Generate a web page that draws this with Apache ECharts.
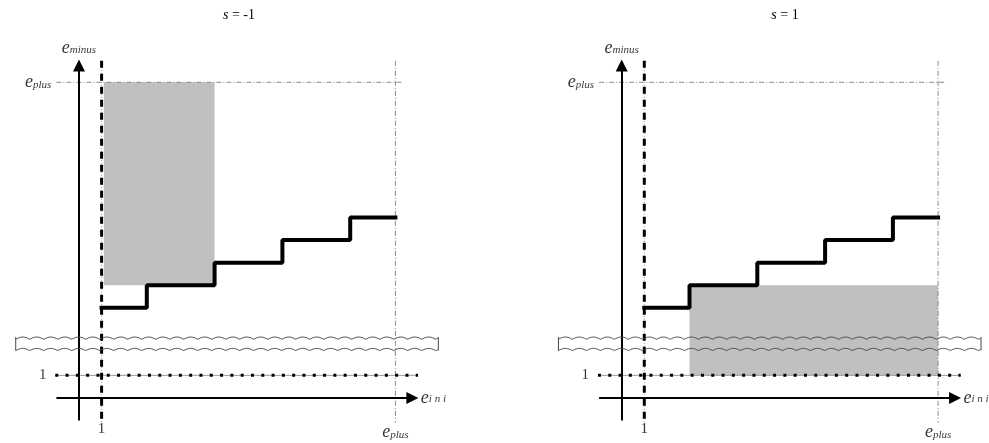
<!DOCTYPE html>
<html>
<head>
<meta charset="utf-8">
<script src="https://cdn.jsdelivr.net/npm/echarts@6/dist/echarts.min.js"></script>
<style>
  html, body { margin: 0; padding: 0; background: #fff; }
  #chart { width: 989px; height: 443px; }
</style>
</head>
<body>
<div id="chart"></div>
<script>
// both panels share the same staircase, only the shaded region changes
const panelS = ['-1', '1'];
const stepX = [1, 3, 6, 9, 12, 14];
const stepY = [4, 5, 6, 7, 8, 8];
const ePlus = 14;
const one = 1;
const shadeX = [[1.1, 6], [3, 14]];
const shadeY = [[5, 14], [1, 5]];
const breakY = [2.1, 2.7];
const breakX = [-2.8, 15.9];
const axisFrom = -1;
const axisTo = 14.75;

const serif = 'Liberation Serif';
const rich = {
  e: { fontFamily: serif, fontStyle: 'italic', fontSize: 18, color: '#000' },
  sub: { fontFamily: serif, fontStyle: 'italic', fontSize: 11, color: '#000', padding: [5, 0, 0, 0] },
  mid: { fontFamily: serif, fontStyle: 'italic', fontSize: 11, color: '#000', padding: [2, 0, 0, 0] },
  n: { fontFamily: serif, fontSize: 15, color: '#000' }
};

const guideGray = { color: '#8a8a8a', width: 1, type: [5, 2, 1, 2] };

function seg(i, pts, lineStyle, z) {
  return {
    type: 'line', xAxisIndex: i, yAxisIndex: i, data: pts,
    symbol: 'none', silent: true, animation: false, z: z || 2,
    lineStyle: lineStyle
  };
}

function renderShade(params, api) {
  const a = api.coord([api.value(0), api.value(3)]);
  const b = api.coord([api.value(1), api.value(2)]);
  return {
    type: 'rect',
    shape: { x: a[0], y: a[1], width: b[0] - a[0], height: b[1] - a[1] },
    style: { fill: '#c0c0c0' }
  };
}

function renderBreak(params, api) {
  const a = api.coord([api.value(0), api.value(3)]);
  const b = api.coord([api.value(0), api.value(2)]);
  const c = api.coord([api.value(1), api.value(2)]);
  const period = 14, amp = 2.2;
  function wave(y) {
    const pts = [];
    for (let x = a[0]; x <= c[0]; x += 1) {
      pts.push([x, y - amp * Math.abs(Math.sin(Math.PI * (x - a[0]) / period))]);
    }
    return pts;
  }
  const st = { stroke: '#444', lineWidth: 1, fill: null };
  return {
    type: 'group',
    children: [
      { type: 'polyline', shape: { points: wave(a[1] + amp) }, style: st },
      { type: 'polyline', shape: { points: wave(b[1]) }, style: st },
      { type: 'line', shape: { x1: a[0], y1: a[1], x2: a[0], y2: b[1] }, style: st },
      { type: 'line', shape: { x1: c[0], y1: a[1], x2: c[0], y2: c[1] }, style: st }
    ]
  };
}

function label(i, pos, text, position, distance) {
  return {
    type: 'scatter', xAxisIndex: i, yAxisIndex: i, symbolSize: 0, silent: true, z: 6,
    data: [{ value: pos }],
    label: { show: true, position: position, distance: distance, formatter: text, rich: rich }
  };
}

function panel(i) {
  const steps = stepX.map((x, k) => [x, stepY[k]]);
  return [
    {
      type: 'custom', xAxisIndex: i, yAxisIndex: i, z: 1, silent: true,
      renderItem: renderShade,
      data: [[shadeX[i][0], shadeX[i][1], shadeY[i][0], shadeY[i][1]]]
    },
    seg(i, [[axisFrom, ePlus], [ePlus + 0.3, ePlus]], guideGray),
    seg(i, [[ePlus, axisTo + 0.2], [ePlus, axisFrom - 0.1]], guideGray),
    seg(i, [[axisFrom - 0.05, one], [15, one]], { color: '#999', width: 1 }),
    seg(i, [[axisFrom - 0.05, one], [15, one]], { color: '#000', width: 3, type: [3, 7.3] }, 3),
    seg(i, [[one, axisTo + 0.2], [one, axisFrom - 0.1]], { color: '#999', width: 1, type: [1, 2] }),
    seg(i, [[one, axisTo + 0.2], [one, axisFrom - 0.1]], { color: '#000', width: 3, type: [7, 6] }, 3),
    {
      type: 'line', xAxisIndex: i, yAxisIndex: i, data: steps, step: 'end',
      symbol: 'none', silent: true, z: 4,
      lineStyle: { color: '#000', width: 4, cap: 'square' }
    },
    {
      type: 'lines', coordinateSystem: 'cartesian2d', xAxisIndex: i, yAxisIndex: i,
      symbol: ['none', 'triangle'], symbolSize: [10, 12], silent: true, z: 5,
      lineStyle: { color: '#000', width: 2, opacity: 1, curveness: 0 },
      data: [
        { coords: [[0, axisFrom], [0, axisTo]] },
        { coords: [[axisFrom, 0], [axisTo, 0]] }
      ]
    },
    {
      type: 'custom', xAxisIndex: i, yAxisIndex: i, z: 5, silent: true,
      renderItem: renderBreak,
      data: [[breakX[0], breakX[1], breakY[0], breakY[1]]]
    },
    label(i, [0, axisTo + 0.3], '{e|e}{mid|minus}', 'top', 1),
    label(i, [axisFrom, ePlus], '{e|e}{sub|plus}', 'left', 5),
    label(i, [axisFrom, one], '{n|1}', 'left', 10),
    label(i, [one, axisFrom], '{n|1}', 'bottom', 1),
    label(i, [ePlus, axisFrom], '{e|e}{sub|plus}', 'bottom', 3),
    label(i, [axisTo + 0.2, 0], '{e|e}{mid|i n i}', 'right', 4)
  ];
}

const chart = echarts.init(document.getElementById('chart'));
const grids = [
  { left: 11.2, top: 37.2, width: 429.4, height: 405.9 },
  { left: 553.9, top: 37.2, width: 429.4, height: 405.9 }
];
const titleCenters = [234, 780];

chart.setOption({
  animation: false,
  backgroundColor: '#fff',
  title: panelS.map((s, i) => ({
    text: '{i|s} = ' + s,
    left: titleCenters[i],
    top: 3,
    textAlign: 'center',
    textStyle: {
      fontFamily: serif, fontSize: 14, fontWeight: 'normal', color: '#000',
      rich: { i: { fontFamily: serif, fontStyle: 'italic', fontSize: 14, color: '#000' } }
    }
  })),
  grid: grids,
  xAxis: grids.map((g, i) => ({ gridIndex: i, type: 'value', min: -3, max: 16, show: false })),
  yAxis: grids.map((g, i) => ({ gridIndex: i, type: 'value', min: -2, max: 16, show: false })),
  series: [].concat(panel(0), panel(1))
});
</script>
</body>
</html>
